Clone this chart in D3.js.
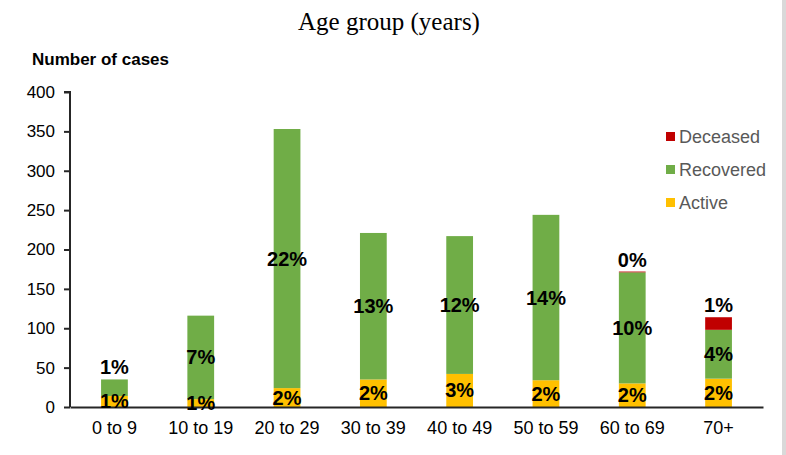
<!DOCTYPE html>
<html>
<head>
<meta charset="utf-8">
<script src="https://cdn.jsdelivr.net/npm/d3@7"></script>
<style>
  body { margin: 0; background: #fff; }
  svg text { font-family: "Liberation Sans", Arial, sans-serif; }
</style>
</head>
<body>
<script>
// chart data
var ageGroups = ["0 to 9", "10 to 19", "20 to 29", "30 to 39", "40 to 49", "50 to 59", "60 to 69", "70+"]
var active = [14, 10, 24, 35, 42, 34, 30, 36]
var recovered = [21, 106, 329, 186, 175, 210, 141, 62]
var deceased = [0, 0, 0, 0, 0, 0, 1, 16]
var activeLabels = ["1%", "1%", "2%", "2%", "3%", "2%", "2%", "2%"]
var recoveredLabels = ["1%", "7%", "22%", "13%", "12%", "14%", "10%", "4%"]
var deceasedLabels = [null, null, null, null, null, null, "0%", "1%"]
var yTicks = [0, 50, 100, 150, 200, 250, 300, 350, 400]

var WIDTH = 786
var HEIGHT = 455
var LEFT = 70
var RIGHT = 763
var TOP = 92
var BOTTOM = 407

var series = [
  {name: "Active", values: active, labels: activeLabels, color: "#FFC000"},
  {name: "Recovered", values: recovered, labels: recoveredLabels, color: "#70AD47"},
  {name: "Deceased", values: deceased, labels: deceasedLabels, color: "#C00000"}
]

var svg = d3.select("body").append("svg")
  .attr("width", WIDTH).attr("height", HEIGHT)

// grey strip at the right edge
svg.append("rect").attr("x", 782).attr("y", 0).attr("width", 4).attr("height", HEIGHT).attr("fill", "#d9d9d9")

svg.append("text")
  .attr("x", 389).attr("y", 30)
  .attr("text-anchor", "middle")
  .style("font-family", "'Liberation Serif', 'DejaVu Serif', serif")
  .style("font-size", "25px")
  .attr("fill", "#000")
  .text("Age group (years)")

svg.append("text")
  .attr("x", 32).attr("y", 65)
  .style("font-size", "17px").style("font-weight", "bold")
  .attr("fill", "#000")
  .text("Number of cases")

var xScale = d3.scaleBand().domain(ageGroups).range([LEFT, RIGHT]).paddingInner(0.69).paddingOuter(0.36)
var yScale = d3.scaleLinear().domain([0, 400]).range([BOTTOM, TOP])

// stack the series by hand
var stacks = []
for (var i = 0; i < ageGroups.length; i++)
{
  var base = 0
  var row = []
  series.forEach(function(s)
  {
    row.push({y0: base, y1: base + s.values[i], color: s.color, label: s.labels[i], name: s.name})
    base += s.values[i]
  })
  stacks.push({group: ageGroups[i], total: base, parts: row})
}

stacks.forEach(function(st)
{
  var x = xScale(st.group)
  st.parts.forEach(function(p)
  {
    if (p.y1 > p.y0)
    {
      svg.append("rect")
        .attr("x", x).attr("width", xScale.bandwidth())
        .attr("y", yScale(p.y1)).attr("height", yScale(p.y0) - yScale(p.y1))
        .attr("fill", p.color)
    }
  })
})

// y axis
var yAxis = svg.append("g").attr("transform", "translate(" + LEFT + ",0)")
  .call(d3.axisLeft(yScale).tickValues(yTicks).tickSize(6).tickPadding(9))
yAxis.select(".domain").attr("stroke", "#262626").attr("stroke-width", 2).attr("d", "M-6," + TOP + "H0V" + BOTTOM)
yAxis.selectAll(".tick line").attr("stroke", "#262626").attr("stroke-width", 2)
yAxis.selectAll("text").style("font-size", "17px").attr("fill", "#000")

// x axis
var xAxis = svg.append("g").attr("transform", "translate(0," + BOTTOM + ")")
  .call(d3.axisBottom(xScale).tickSize(0).tickPadding(14))
xAxis.select(".domain").attr("stroke", "#262626").attr("stroke-width", 2)
xAxis.selectAll("text").style("font-size", "18px").attr("fill", "#000")

// percentage labels
stacks.forEach(function(st)
{
  var cx = xScale(st.group) + xScale.bandwidth() / 2
  var topIndex = -1
  st.parts.forEach(function(p, j) { if (p.y1 > p.y0) topIndex = j })
  st.parts.forEach(function(p, j)
  {
    if (!p.label) return
    var h = yScale(p.y0) - yScale(p.y1)
    var y
    if (j >= topIndex && h < 18)
      y = yScale(st.total) - 12
    else
      y = (yScale(p.y0) + yScale(p.y1)) / 2
    svg.append("text")
      .attr("x", cx).attr("y", y).attr("dy", "0.35em")
      .attr("text-anchor", "middle")
      .style("font-size", "20px").style("font-weight", "bold")
      .attr("fill", "#000")
      .text(p.label)
  })
})

// legend, top entry first
var legendOrder = series.slice().reverse()
var legend = svg.append("g").attr("transform", "translate(666,137)")
legendOrder.forEach(function(s, i)
{
  legend.append("rect").attr("x", 0).attr("y", 33 * i - 5).attr("width", 9).attr("height", 9).attr("fill", s.color)
  legend.append("text").attr("x", 13).attr("y", 33 * i).attr("dy", "0.35em")
    .style("font-size", "18px").attr("fill", "#595959").text(s.name)
})
</script>
</body>
</html>
